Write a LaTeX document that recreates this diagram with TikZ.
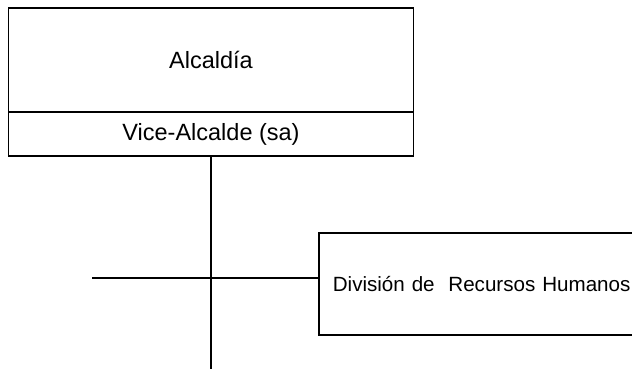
\documentclass[tikz,border=0pt]{standalone}
\usepackage{fontspec}
\setmainfont{Liberation Sans}
\begin{document}
\begin{tikzpicture}[x=1pt,y=-1pt,
  box/.style={draw,line width=1.6pt,rectangle,inner sep=0pt},
  conn/.style={line width=1.6pt},
  bigtext/.style={font=\fontsize{23.5}{28}\selectfont},
  smalltext/.style={font=\fontsize{20.6}{25}\selectfont}]
\useasboundingbox (0,0) rectangle (632,368);
\clip (0,0) rectangle (632,368);
\node[box,bigtext,minimum width=405pt,minimum height=104pt] (alc) at (211,60) {Alcaldía};
\node[box,bigtext,minimum width=405pt,minimum height=44pt] (vice) at (211,134) {Vice-Alcalde (sa)};
\node[box,smalltext,anchor=west,text width=312pt,align=left,inner xsep=14pt,minimum height=102pt] (rh) at (318,284) {División de\ \ Recursos Humanos};
\coordinate (bot) at (211,370);
\coordinate (hl) at (92,278);
\draw[conn] (vice.south) -- (bot);
\draw[conn] (hl) -- (hl -| rh.west);
\end{tikzpicture}
\end{document}
